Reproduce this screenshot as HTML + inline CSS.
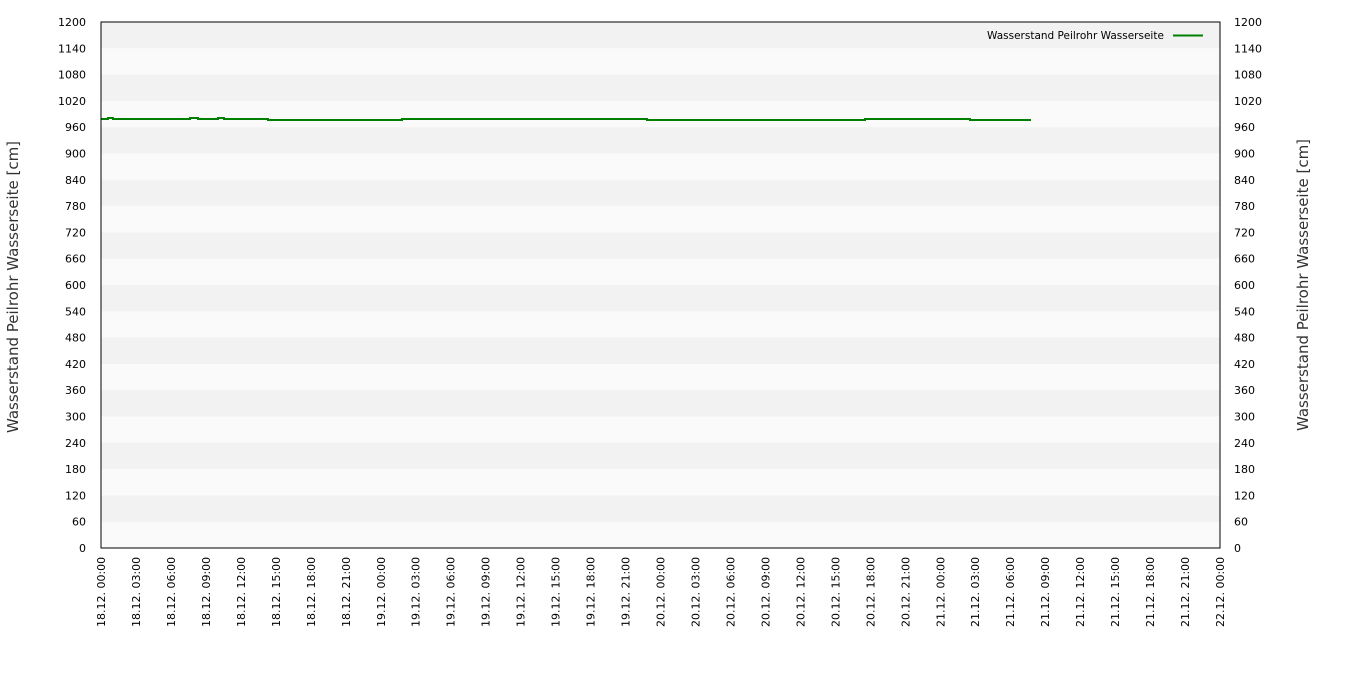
<!DOCTYPE html>
<html><head><meta charset="utf-8"><style>
html,body{margin:0;padding:0;background:#fff;}
svg{display:block;font-family:"DejaVu Sans","Liberation Sans",sans-serif;}
</style></head><body>
<svg id="c" width="1350" height="700" xmlns="http://www.w3.org/2000/svg"></svg>
<script>
var s='',L=101,R=1220,T=22,B=548,h=(B-T)/20;
s+='<rect x="'+L+'" y="'+T+'" width="'+(R-L)+'" height="'+(B-T)+'" fill="#fafafa"/>';
for(var i=0;i<20;i+=2){s+='<rect x="'+L+'" y="'+(T+i*h)+'" width="'+(R-L)+'" height="'+h+'" fill="#f2f2f2"/>';}
for(var i=0;i<=20;i++){var y=B-i*h+4,v=i*60;
s+='<text x="86" y="'+y+'" font-size="11" text-anchor="end" fill="#000">'+v+'</text>';
s+='<text x="1234" y="'+y+'" font-size="11" fill="#000">'+v+'</text>';}
var days=['18.12.','19.12.','20.12.','21.12.','22.12.'];
for(var i=0;i<=32;i++){var x=L+i*(R-L)/32+4,d=days[Math.floor(i/8)],hh=(i%8)*3;
var lab=d+' '+(hh<10?'0':'')+hh+':00';
s+='<text transform="translate('+x+',627) rotate(-90)" font-size="11" fill="#000">'+lab+'</text>';}
var pts=[[101,119],[108,119],[108,118],[113,118],[113,119],[190,119],[190,118],[198,118],[198,119],[218,119],[218,118],[224,118],[224,119],[268,119],[268,120],[402,120],[402,119],[647,119],[647,120],[865,120],[865,119],[970,119],[970,120],[1031,120]];
s+='<polyline fill="none" stroke="#008000" stroke-width="2" points="'+pts.map(function(p){return p.join(',')}).join(' ')+'"/>';
s+='<rect x="'+L+'" y="'+T+'" width="'+(R-L)+'" height="'+(B-T)+'" fill="none" stroke="#000" stroke-width="1"/>';
s+='<text x="987" y="39" font-size="10.5" fill="#000">Wasserstand Peilrohr Wasserseite</text>';
s+='<line x1="1173" y1="35.5" x2="1203" y2="35.5" stroke="#008000" stroke-width="2"/>';
s+='<text transform="translate(18,287) rotate(-90)" font-size="15" text-anchor="middle" fill="#333">Wasserstand Peilrohr Wasserseite [cm]</text>';
s+='<text transform="translate(1308,285) rotate(-90)" font-size="15" text-anchor="middle" fill="#333">Wasserstand Peilrohr Wasserseite [cm]</text>';
document.getElementById('c').innerHTML=s;
</script>
</body></html>
